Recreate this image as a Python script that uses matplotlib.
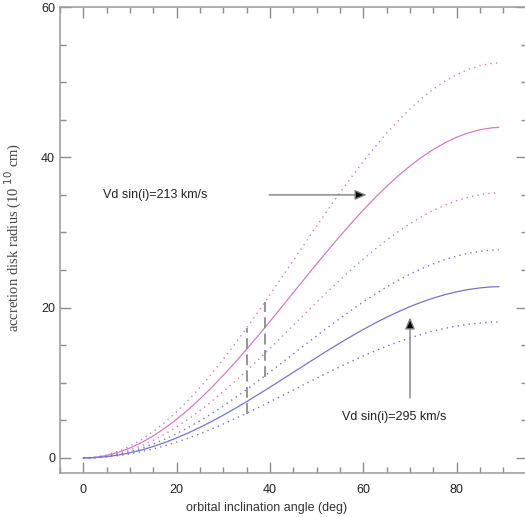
import matplotlib
matplotlib.use('Agg')
import matplotlib.pyplot as plt
from matplotlib.ticker import MultipleLocator

# inclination angle grid (deg)
angles = [0, 2.5, 5, 7.5, 10, 12.5, 15, 17.5, 20, 22.5, 25, 27.5, 30, 32.5,
          35, 37.5, 40, 42.5, 45, 47.5, 50, 52.5, 55, 57.5, 60, 62.5, 65,
          67.5, 70, 72.5, 75, 77.5, 80, 82.5, 85, 87.5, 89]

# Vd sin(i) = 213 km/s : best value and bounds
r213_mid = [0, 0.08, 0.33, 0.75, 1.33, 2.06, 2.95, 3.98, 5.15, 6.44, 7.86,
            9.38, 11.0, 12.70, 14.48, 16.31, 18.18, 20.08, 22.0, 23.92, 25.82,
            27.69, 29.52, 31.30, 33.0, 34.62, 36.14, 37.56, 38.85, 40.02,
            41.05, 41.94, 42.67, 43.25, 43.67, 43.92, 43.99]
r213_hi = [0, 0.10, 0.40, 0.90, 1.59, 2.46, 3.52, 4.76, 6.15, 7.70, 9.39,
           11.21, 13.15, 15.19, 17.30, 19.49, 21.73, 24.01, 26.3, 28.59, 30.87,
           33.11, 35.30, 37.41, 39.45, 41.38, 43.21, 44.90, 46.45, 47.84,
           49.08, 50.14, 51.01, 51.70, 52.20, 52.50, 52.58]
r213_lo = [0, 0.07, 0.27, 0.60, 1.06, 1.65, 2.36, 3.19, 4.13, 5.17, 6.30,
           7.53, 8.83, 10.19, 11.61, 13.08, 14.59, 16.11, 17.65, 19.19, 20.71,
           22.22, 23.69, 25.11, 26.48, 27.77, 29.0, 30.13, 31.17, 32.11,
           32.94, 33.65, 34.24, 34.70, 35.03, 35.23, 35.29]

# Vd sin(i) = 295 km/s : best value and bounds
r295_mid = [0, 0.04, 0.17, 0.39, 0.69, 1.07, 1.53, 2.06, 2.67, 3.34, 4.07,
            4.86, 5.70, 6.58, 7.50, 8.45, 9.42, 10.41, 11.4, 12.39, 13.38,
            14.35, 15.30, 16.22, 17.1, 17.94, 18.73, 19.46, 20.13, 20.74,
            21.27, 21.73, 22.11, 22.41, 22.63, 22.76, 22.79]
r295_hi = [0, 0.05, 0.21, 0.47, 0.84, 1.30, 1.86, 2.50, 3.24, 4.06, 4.95,
           5.91, 6.93, 8.00, 9.11, 10.27, 11.45, 12.64, 13.85, 15.06, 16.25,
           17.43, 18.59, 19.70, 20.78, 21.79, 22.75, 23.64, 24.46, 25.20,
           25.84, 26.40, 26.86, 27.23, 27.49, 27.65, 27.69]
r295_lo = [0, 0.03, 0.14, 0.31, 0.55, 0.85, 1.21, 1.64, 2.12, 2.65, 3.23,
           3.86, 4.53, 5.23, 5.95, 6.71, 7.48, 8.26, 9.05, 9.84, 10.62,
           11.39, 12.15, 12.87, 13.58, 14.24, 14.87, 15.45, 15.98, 16.46,
           16.89, 17.25, 17.55, 17.79, 17.96, 18.07, 18.09]

# allowed inclination range markers
mark_angles = [35, 39]
mark_lo = [5.9, 10.8]
mark_hi = [17.3, 20.8]

magenta = '#d47cc6'
blue = '#7474cc'
grey = '#8c8c8c'

plt.rcParams['font.family'] = ['Liberation Sans', 'DejaVu Sans']

fig = plt.figure(figsize=(5.25, 5.17), dpi=100)
ax = fig.add_axes([60 / 525, 44 / 517, 466.7 / 525, 466 / 517])

dots = (0, (1, 3))
ax.plot(angles, r213_mid, color=magenta, lw=0.9)
ax.plot(angles, r213_hi, color=magenta, lw=1.0, ls=dots)
ax.plot(angles, r213_lo, color=magenta, lw=1.0, ls=dots)

ax.plot(angles, r295_mid, color=blue, lw=0.9)
ax.plot(angles, r295_hi, color=blue, lw=1.0, ls=dots)
ax.plot(angles, r295_lo, color=blue, lw=1.0, ls=dots)

ax.vlines(mark_angles, mark_lo, mark_hi, colors=grey, lw=1.3,
          linestyles=(0, (6, 3)))

arrow_kw = dict(arrowstyle='-|>,head_length=0.7,head_width=0.3',
                ec='#808080', fc='black', lw=1.0, shrinkA=0, shrinkB=0)
ax.annotate('', xy=(60.7, 35), xytext=(39.8, 35), arrowprops=arrow_kw)
ax.annotate('', xy=(70, 18.7), xytext=(70, 8), arrowprops=arrow_kw)

ax.text(4.2, 35, 'Vd sin(i)=213 km/s', fontsize=9, va='center', color='#222222')
ax.text(55.4, 5.5, 'Vd sin(i)=295 km/s', fontsize=9, va='center', color='#222222')

ax.set_xlim(-5, 95)
ax.set_ylim(-2, 60)
ax.xaxis.set_major_locator(MultipleLocator(20))
ax.xaxis.set_minor_locator(MultipleLocator(5))
ax.yaxis.set_major_locator(MultipleLocator(20))
ax.yaxis.set_minor_locator(MultipleLocator(5))
ax.tick_params(which='both', direction='in', top=True, right=True,
               color=grey, labelsize=9, labelcolor='#222222')
ax.tick_params(which='major', length=8, width=1)
ax.tick_params(which='minor', length=4, width=1)
ax.tick_params(axis='x', which='major', pad=8)
for s in ax.spines.values():
    s.set_color('#a0a0a0')
    s.set_linewidth(1.2)

ax.set_xlabel('orbital inclination angle (deg)', fontsize=9, color='#333333')
ax.xaxis.set_label_coords(0.443, -0.062)
ax.set_ylabel('accretion disk radius (10 $^{10}$ cm)', fontsize=10.5,
              color='#444444', family='Liberation Serif')
ax.yaxis.set_label_coords(-0.077, 0.505)

fig.savefig('out.png', dpi=100)
